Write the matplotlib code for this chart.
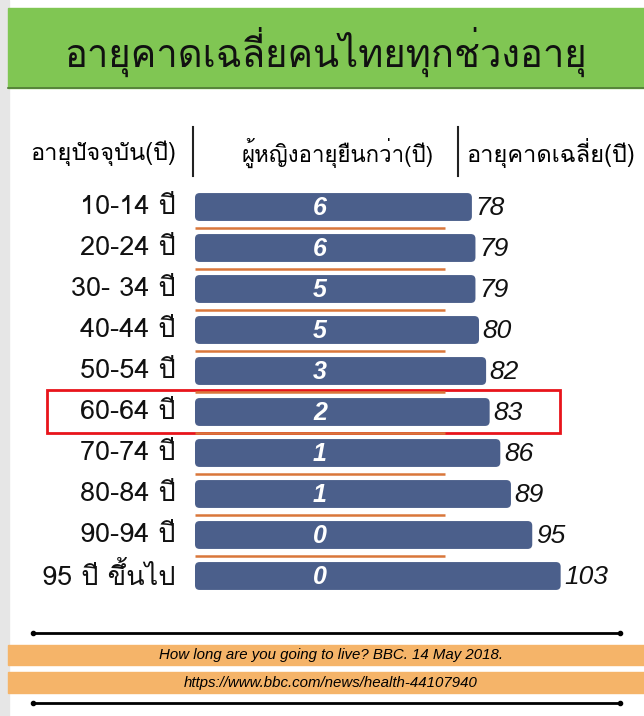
import matplotlib
matplotlib.use("Agg")
import matplotlib.pyplot as plt
from matplotlib import font_manager
from matplotlib.patches import Rectangle, FancyBboxPatch

# ข้อมูล
ช่วงอายุ = ["10-14 ปี", "20-24 ปี", "30- 34 ปี", "40-44 ปี", "50-54 ปี",
           "60-64 ปี", "70-74 ปี", "80-84 ปี", "90-94 ปี", "95 ปี ขึ้นไป"]
อายุคาดเฉลี่ย = [78, 79, 79, 80, 82, 83, 86, 89, 95, 103]
ผู้หญิงยืนกว่า = [6, 6, 5, 5, 3, 2, 1, 1, 0, 0]
หัวข้อ = "อายุคาดเฉลี่ยคนไทยทุกช่วงอายุ"
หัวคอลัมน์ = ["อายุปัจจุบัน(ปี)", "ผู้หญิงอายุยืนกว่า(ปี)", "อายุคาดเฉลี่ย(ปี)"]
แหล่งที่มา = ["How long are you going to live? BBC. 14 May 2018.",
             "https://www.bbc.com/news/health-44107940"]

# หาฟอนต์ที่มีอักษรไทย
ฟอนต์ไทย = []
try:
    from fontTools.ttLib import TTFont
    for f in font_manager.fontManager.ttflist:
        try:
            cmap = TTFont(f.fname, fontNumber=0, lazy=True).getBestCmap()
            if cmap and 0x0E01 in cmap and f.name not in ฟอนต์ไทย:
                ฟอนต์ไทย.append(f.name)
        except Exception:
            continue
except Exception:
    pass
plt.rcParams["font.family"] = ฟอนต์ไทย[:1] + ["DejaVu Sans"]
ละติน = ["Liberation Sans", "DejaVu Sans"]

W, H = 644, 716
fig = plt.figure(figsize=(W / 100, H / 100), dpi=100)

# พื้นหลัง (พิกัดพิกเซล)
bg = fig.add_axes([0, 0, 1, 1])
bg.set_xlim(0, W)
bg.set_ylim(H, 0)
bg.axis("off")
bg.add_patch(Rectangle((0, 0), 9, H, color="#e6e6e6"))
bg.add_patch(Rectangle((8, 8), W - 8, 80, color="#80c653"))
bg.plot([8, W], [88, 88], color="#4f7a35", lw=1.2)
bg.text(326, 52, หัวข้อ, ha="center", va="center", fontsize=27.5, color="#111111",
        fontweight="light")

bg.text(103, 153, หัวคอลัมน์[0], ha="center", va="center", fontsize=17)
bg.text(338, 153, หัวคอลัมน์[1], ha="center", va="center", fontsize=16)
bg.text(551, 153, หัวคอลัมน์[2], ha="center", va="center", fontsize=17)
bg.plot([193, 193], [127, 176], color="#222222", lw=1.5)
bg.plot([458, 458], [127, 176], color="#222222", lw=1.5)

# กรอบสีแดง
bg.add_patch(Rectangle((47, 390), 513, 43, fill=False, ec="#e8141b", lw=2))

# แหล่งที่มา
bg.plot([33, 620], [633, 633], color="black", lw=2, marker="o", markersize=3, markevery=[0, 1])
bg.add_patch(Rectangle((8, 645), W - 8, 20, color="#f5b469"))
bg.add_patch(Rectangle((8, 672), W - 8, 21, color="#f5b469"))
bg.text(331, 655, แหล่งที่มา[0], ha="center", va="center", fontsize=10.8, style="italic",
        family=ละติน)
bg.text(331, 683, แหล่งที่มา[1], ha="center", va="center", fontsize=10.8, style="italic",
        family=ละติน)
bg.plot([33, 620], [703, 703], color="black", lw=2, marker="o", markersize=3, markevery=[0, 1])

# แท่งกราฟ
ppu = 3.55  # พิกเซลต่อปี
x0, top, step = 195, 186.5, 41
ax = fig.add_axes([x0 / W, 1 - (top + step * 10) / H, (W - x0) / W, step * 10 / H])
ax.set_xlim(0, (W - x0) / ppu)
ax.set_ylim(9.5, -0.5)
ax.axis("off")
ax.patch.set_alpha(0)

y = range(len(ช่วงอายุ))
bars = ax.barh(y, อายุคาดเฉลี่ย, height=0.68, color="#4b5f8b")
# มุมโค้งของแท่ง
for b in bars:
    b.set_visible(False)
    ax.add_patch(FancyBboxPatch((b.get_x(), b.get_y()), b.get_width(), b.get_height(),
                                boxstyle="round,pad=0,rounding_size=1.3",
                                mutation_aspect=ppu / step, fc="#4b5f8b", ec="none"))
ax.hlines([i + 0.5 for i in y][:-1], 0, 70.5, color="#d9773a", lw=1.8)
for i in y:
    ax.text(35.2, i + 0.03, str(ผู้หญิงยืนกว่า[i]), ha="center", va="center", color="white",
            fontsize=18, fontweight="bold", style="italic", family=ละติน)
    ax.text(อายุคาดเฉลี่ย[i] + 1, i + 0.03, str(อายุคาดเฉลี่ย[i]), ha="left", va="center",
            fontsize=19, style="italic", color="#111111", family=ละติน)
    ax.text(-5.5, i, ช่วงอายุ[i], ha="right", va="center", fontsize=19.5, color="#111111",
            clip_on=False)

fig.savefig("out.png", dpi=100)
